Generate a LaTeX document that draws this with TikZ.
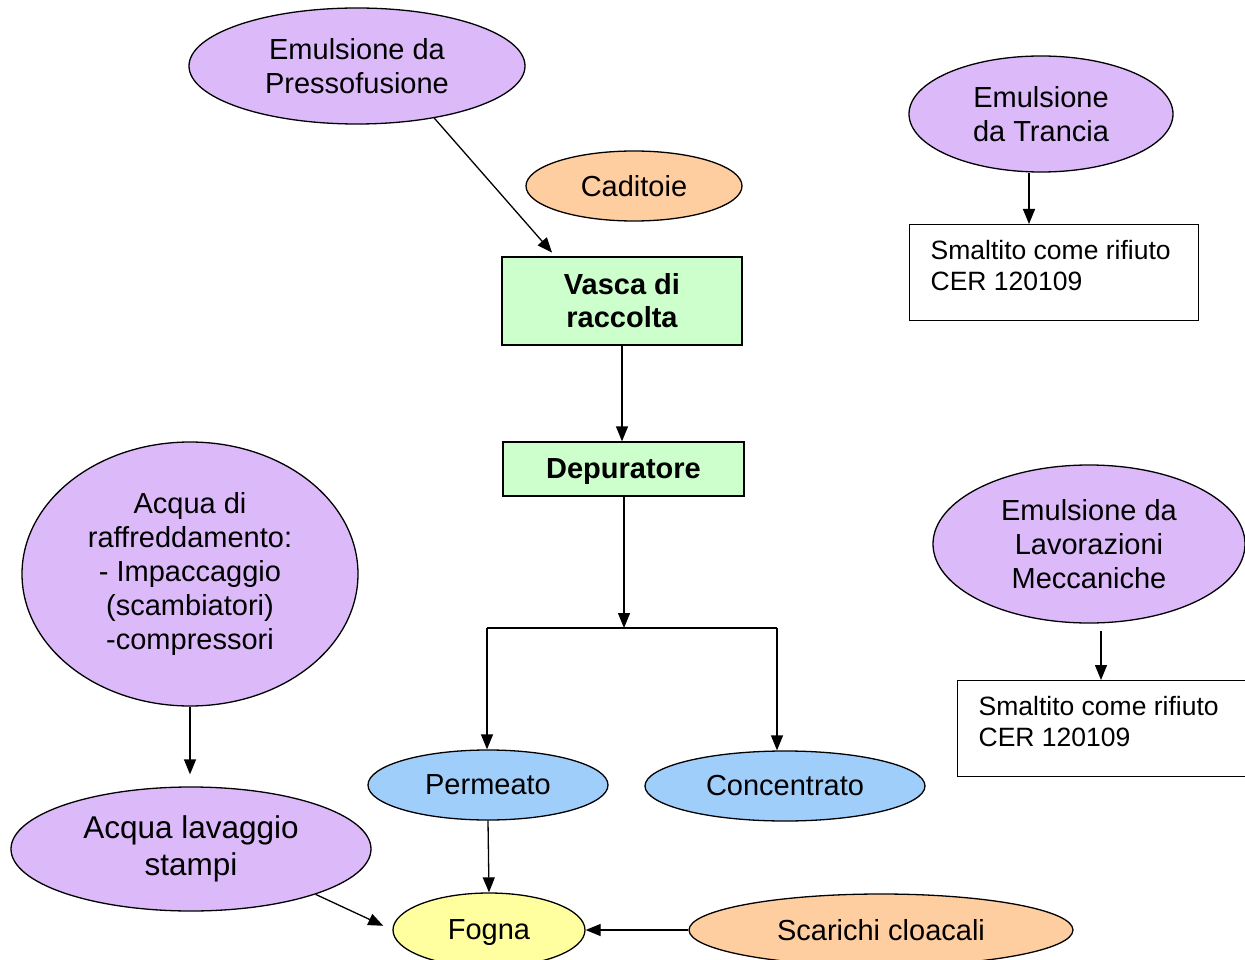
\documentclass[tikz,border=0pt]{standalone}
\usepackage{fontspec}
\setmainfont{Liberation Sans}
\usetikzlibrary{shapes.geometric,arrows.meta,calc}
\definecolor{lilac}{RGB}{220,186,250}
\definecolor{peach}{RGB}{255,206,160}
\definecolor{skyb}{RGB}{160,206,250}
\definecolor{lemon}{RGB}{255,255,160}
\definecolor{mint}{RGB}{204,255,204}
\tikzset{
  oval/.style={ellipse, draw=black, line width=1.3pt, inner sep=0pt, align=center,
    font=\fontsize{29}{34}\selectfont},
  stepbox/.style={rectangle, draw=black, line width=1.3pt, fill=mint, inner sep=0pt, align=center,
    font=\fontsize{29}{33}\selectfont\bfseries},
  wastebox/.style={rectangle, draw=black, line width=1.3pt, fill=white, inner sep=0pt,
    anchor=north west, font=\fontsize{26.5}{31}\selectfont},
  arr/.style={line width=1.3pt, -{Triangle[length=15pt,width=12pt]}},
  ln/.style={line width=1.3pt}
}
\begin{document}
\begin{tikzpicture}[x=1pt,y=-1pt]
\useasboundingbox[fill=white] (0,0) rectangle (1245,960);
% nodes
\node[oval, fill=lilac, minimum width=336pt, minimum height=116pt] (pr) at (357,66) {Emulsione da\\Pressofusione};
\node[oval, fill=peach, minimum width=216pt, minimum height=70pt] (cad) at (634,186) {Caditoie};
\node[stepbox, minimum width=240pt, minimum height=88pt] (vasca) at (622,301) {Vasca di\\raccolta};
\node[stepbox, minimum width=241pt, minimum height=54pt, text depth=0pt] (dep) at (623.5,469) {Depuratore};
\node[oval, fill=lilac, minimum width=264pt, minimum height=116pt] (tr) at (1041,114) {Emulsione\\da Trancia};
\node[wastebox] (s1) at (909,224) {\parbox[t][96pt][t]{289pt}{\rule{0pt}{35pt}\hspace*{21pt}Smaltito come rifiuto\\\hspace*{21pt}CER 120109}};
\node[oval, fill=lilac, minimum width=312pt, minimum height=158pt] (lv) at (1089,544) {Emulsione da\\Lavorazioni\\Meccaniche};
\node[wastebox] (s2) at (957,680) {\parbox[t][96pt][t]{288pt}{\rule{0pt}{35pt}\hspace*{21pt}Smaltito come rifiuto\\\hspace*{21pt}CER 120109}};
\node[oval, fill=lilac, minimum width=336pt, minimum height=264pt] (raf) at (190,574) {Acqua di\\raffreddamento:\\- Impaccaggio\\(scambiatori)\\-compressori};
\node[oval, fill=lilac, minimum width=360pt, minimum height=124pt, font=\fontsize{31.5}{37}\selectfont] (lw) at (191,849) {Acqua lavaggio\\stampi};
\node[oval, fill=skyb, minimum width=240pt, minimum height=70pt] (perm) at (488,785) {Permeato};
\node[oval, fill=skyb, minimum width=280pt, minimum height=70pt] (conc) at (785,786) {Concentrato};
\node[oval, fill=lemon, minimum width=192pt, minimum height=74pt, text depth=0pt] (fog) at (489,930) {Fogna};
\node[oval, fill=peach, minimum width=384pt, minimum height=72pt] (sc) at (881,930) {Scarichi cloacali};
% junction
\coordinate (j) at (624,628);
\coordinate (jl) at (487,628);
\coordinate (jr) at (777,628);
% connectors
\draw[arr, shorten >=5pt] (pr.-34) -- ([xshift=54pt]vasca.north west);
\draw[arr] (vasca.south) -- (vasca.south |- dep.north);
\draw[arr] (dep.south -| j) -- (j);
\draw[ln] (jl) -- (jr);
\draw[arr] (jl) -- (jl |- perm.north);
\draw[arr] (jr) -- (jr |- conc.north);
\draw[arr] ([xshift=-12pt]tr.south) -- ([xshift=-12pt]tr.south |- s1.north);
\draw[arr, shorten <=7pt] ([xshift=12pt]lv.south) -- ([xshift=12pt]lv.south |- s2.north);
\draw[arr, shorten >=12pt] (raf.south) -- (lw.north -| raf.south);
\draw[arr, shorten >=10pt] (lw.-20) -- (fog.west);
\draw[arr] (perm.south) -- (fog.north);
\draw[arr] (sc.west) -- (fog.east);
\end{tikzpicture}
\end{document}
